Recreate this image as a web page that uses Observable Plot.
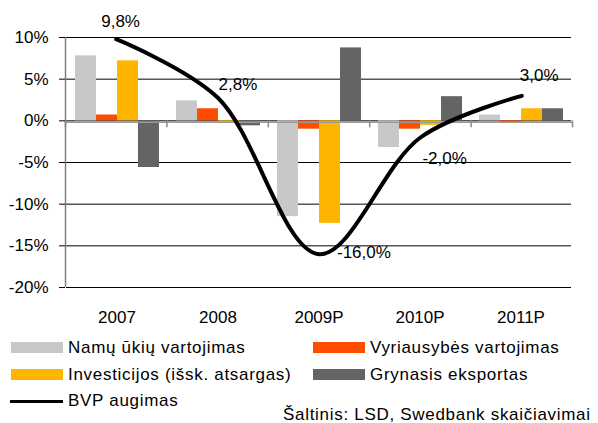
<!DOCTYPE html>
<html>
<head>
<meta charset="utf-8">
<script src="https://cdn.jsdelivr.net/npm/d3@7"></script>
<script src="https://cdn.jsdelivr.net/npm/@observablehq/plot@0.6"></script>
<style>
  html, body { margin: 0; padding: 0; background: #fff; }
  #wrap { position: relative; width: 598px; height: 423px; overflow: hidden; font-family: "Liberation Sans", Arial, sans-serif; color: #000; }
  #bars, #overlay { position: absolute; left: 0; top: 0; }
  .sw { position: absolute; height: 11px; width: 52px; }
  .lt { position: absolute; font-size: 17px; line-height: 20px; white-space: nowrap; letter-spacing: 0.7px; }
</style>
</head>
<body>
<div id="wrap">
  <div id="bars"></div>
  <div id="overlay"></div>
</div>
<script>
const categories = ["2007", "2008", "2009P", "2010P", "2011P"];
const seriesNames = ["Namų ūkių vartojimas", "Vyriausybės vartojimas", "Investicijos (išsk. atsargas)", "Grynasis eksportas"];
const seriesColors = ["#c8c8c8", "#ff4d00", "#ffb400", "#646464"];
const household = [7.8, 2.4, -11.5, -3.2, 0.7];
const government = [0.7, 1.45, -1.0, -1.0, -0.3];
const investment = [7.2, -0.3, -12.3, -0.55, 1.45];
const netExports = [-5.6, -0.6, 8.75, 2.9, 1.45];
const gdpName = "BVP augimas";
const gdp = [9.8, 2.8, -16.0, -2.0, 3.0];
const gdpLabels = ["9,8%", "2,8%", "-16,0%", "-2,0%", "3,0%"];
const yTicks = [10, 5, 0, -5, -10, -15, -20];
const sourceText = "Šaltinis: LSD, Swedbank skaičiavimai";

const seriesValues = [household, government, investment, netExports];
const data = categories.flatMap((c, i) => seriesNames.map((s, k) => ({category: c, series: s, value: seriesValues[k][i]})));

const W = 598, H = 330;
const margins = {marginLeft: 65, marginRight: 26, marginTop: 37, marginBottom: 43};
const font = "'Liberation Sans', Arial, sans-serif";

const bars = Plot.plot({
  width: W, height: H, ...margins,
  style: {fontSize: "17px", fontFamily: font, color: "#000", background: "transparent"},
  fx: {domain: categories, padding: 0, axis: "bottom", tickSize: 0, tickPadding: 23, label: null},
  x: {domain: seriesNames, paddingInner: 0, paddingOuter: 0.3, axis: null},
  y: {domain: [-20, 10], axis: null},
  color: {domain: seriesNames, range: seriesColors},
  marks: [
    Plot.ruleY(yTicks, {stroke: "#000", strokeWidth: 1}),
    Plot.barY(data, {fx: "category", x: "series", y: "value", fill: "series"})
  ]
});
document.getElementById("bars").appendChild(bars);

const idx = categories.map((c, i) => i);
const boundaries = categories.map((c, i) => i - 0.5).concat([categories.length - 0.5]);
const labelDx = [-15, 1, 18, 2, -2];
const labelDy = [-18, -13, -2, 21, -20];

const overlay = Plot.plot({
  width: W, height: H, ...margins,
  style: {fontSize: "17px", fontFamily: font, color: "#000", background: "transparent"},
  x: {domain: [-0.5, categories.length - 0.5], axis: null},
  y: {domain: [-20, 10], axis: null},
  marks: [
    Plot.ruleY([0], {stroke: "#9a9a9a", strokeWidth: 1.5, dy: 1.5}),
    Plot.ruleX(boundaries, {y1: 0, y2: 0, insetBottom: -7, stroke: "#8a8a8a", strokeWidth: 1.5}),
    Plot.ruleX([-0.5], {y1: -20, y2: 10, stroke: "#808080", strokeWidth: 1.5}),
    Plot.axisY(yTicks, {tickSize: 6, tickPadding: 11, tickFormat: d => d + "%", stroke: "#000"}),
    Plot.line(idx, {x: i => i, y: i => gdp[i], curve: "catmull-rom", stroke: "#000", strokeWidth: 4}),
    ...idx.map(i => Plot.text([i], {x: d => d, y: d => gdp[d], text: d => gdpLabels[d], textAnchor: "start", dx: labelDx[i], dy: labelDy[i], fill: "#000"}))
  ]
});
overlay.style.pointerEvents = "none";
document.getElementById("overlay").appendChild(overlay);

// Legend (HTML)
const wrap = document.getElementById("wrap");
const legendPos = [
  {sx: 11, tx: 68, y: 348},
  {sx: 313, tx: 370, y: 348},
  {sx: 11, tx: 68, y: 375},
  {sx: 313, tx: 370, y: 375}
];
seriesNames.forEach((name, k) => {
  const p = legendPos[k];
  const sw = document.createElement("div");
  sw.className = "sw";
  sw.style.left = p.sx + "px";
  sw.style.top = (p.y - 6) + "px";
  sw.style.background = seriesColors[k];
  wrap.appendChild(sw);
  const t = document.createElement("div");
  t.className = "lt";
  t.style.left = p.tx + "px";
  t.style.top = (p.y - 10) + "px";
  t.textContent = name;
  wrap.appendChild(t);
});
const ln = document.createElement("div");
ln.style.cssText = "position:absolute;left:10px;top:400px;width:53px;height:3px;background:#000;";
wrap.appendChild(ln);
const lt = document.createElement("div");
lt.className = "lt";
lt.style.left = "68px";
lt.style.top = "391px";
lt.textContent = gdpName;
wrap.appendChild(lt);
const src = document.createElement("div");
src.className = "lt";
src.style.left = "283px";
src.style.top = "405px";
src.textContent = sourceText;
wrap.appendChild(src);
</script>
</body>
</html>
